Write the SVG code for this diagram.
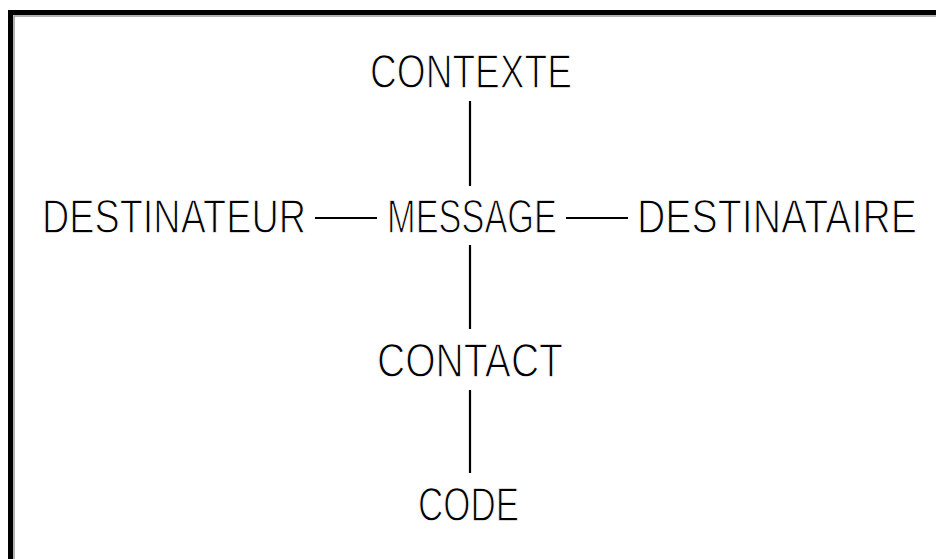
<svg xmlns="http://www.w3.org/2000/svg" width="936" height="559" viewBox="0 0 936 559">
<style>
.lbl{font-family:"Liberation Sans",Arial,sans-serif;font-size:37.5px;fill:#000;stroke:#fff;stroke-width:1px}
.con{stroke:#000;stroke-width:2.2;fill:none}
</style>
<rect width="936" height="559" fill="#fff"/>
<g id="frame">
<path d="M10.5 559 V12.5 H936" fill="none" stroke="#000" stroke-width="5"/>
<path d="M14 559 V16 H936" fill="none" stroke="#999" stroke-width="1.5"/>
</g>
<g id="connectors">
<line class="con" x1="470" y1="101" x2="470" y2="186"/>
<line class="con" x1="315" y1="218" x2="377" y2="218"/>
<line class="con" x1="566" y1="218" x2="628" y2="218"/>
<line class="con" x1="470" y1="245" x2="470" y2="329"/>
<line class="con" x1="470" y1="390" x2="470" y2="473"/>
</g>
<g id="contexte"><text class="lbl" transform="translate(370 88) scale(1 1.28)" textLength="202" lengthAdjust="spacingAndGlyphs">CONTEXTE</text></g>
<g id="destinateur"><text class="lbl" transform="translate(42 233) scale(1 1.28)" textLength="264" lengthAdjust="spacingAndGlyphs">DESTINATEUR</text></g>
<g id="message"><text class="lbl" transform="translate(387 233) scale(1 1.28)" textLength="170" lengthAdjust="spacingAndGlyphs">MESSAGE</text></g>
<g id="destinataire"><text class="lbl" transform="translate(637 233) scale(1 1.28)" textLength="280" lengthAdjust="spacingAndGlyphs">DESTINATAIRE</text></g>
<g id="contact"><text class="lbl" transform="translate(377 377) scale(1 1.28)" textLength="186" lengthAdjust="spacingAndGlyphs">CONTACT</text></g>
<g id="code"><text class="lbl" transform="translate(418 521) scale(1 1.28)" textLength="101" lengthAdjust="spacingAndGlyphs">CODE</text></g>
</svg>
